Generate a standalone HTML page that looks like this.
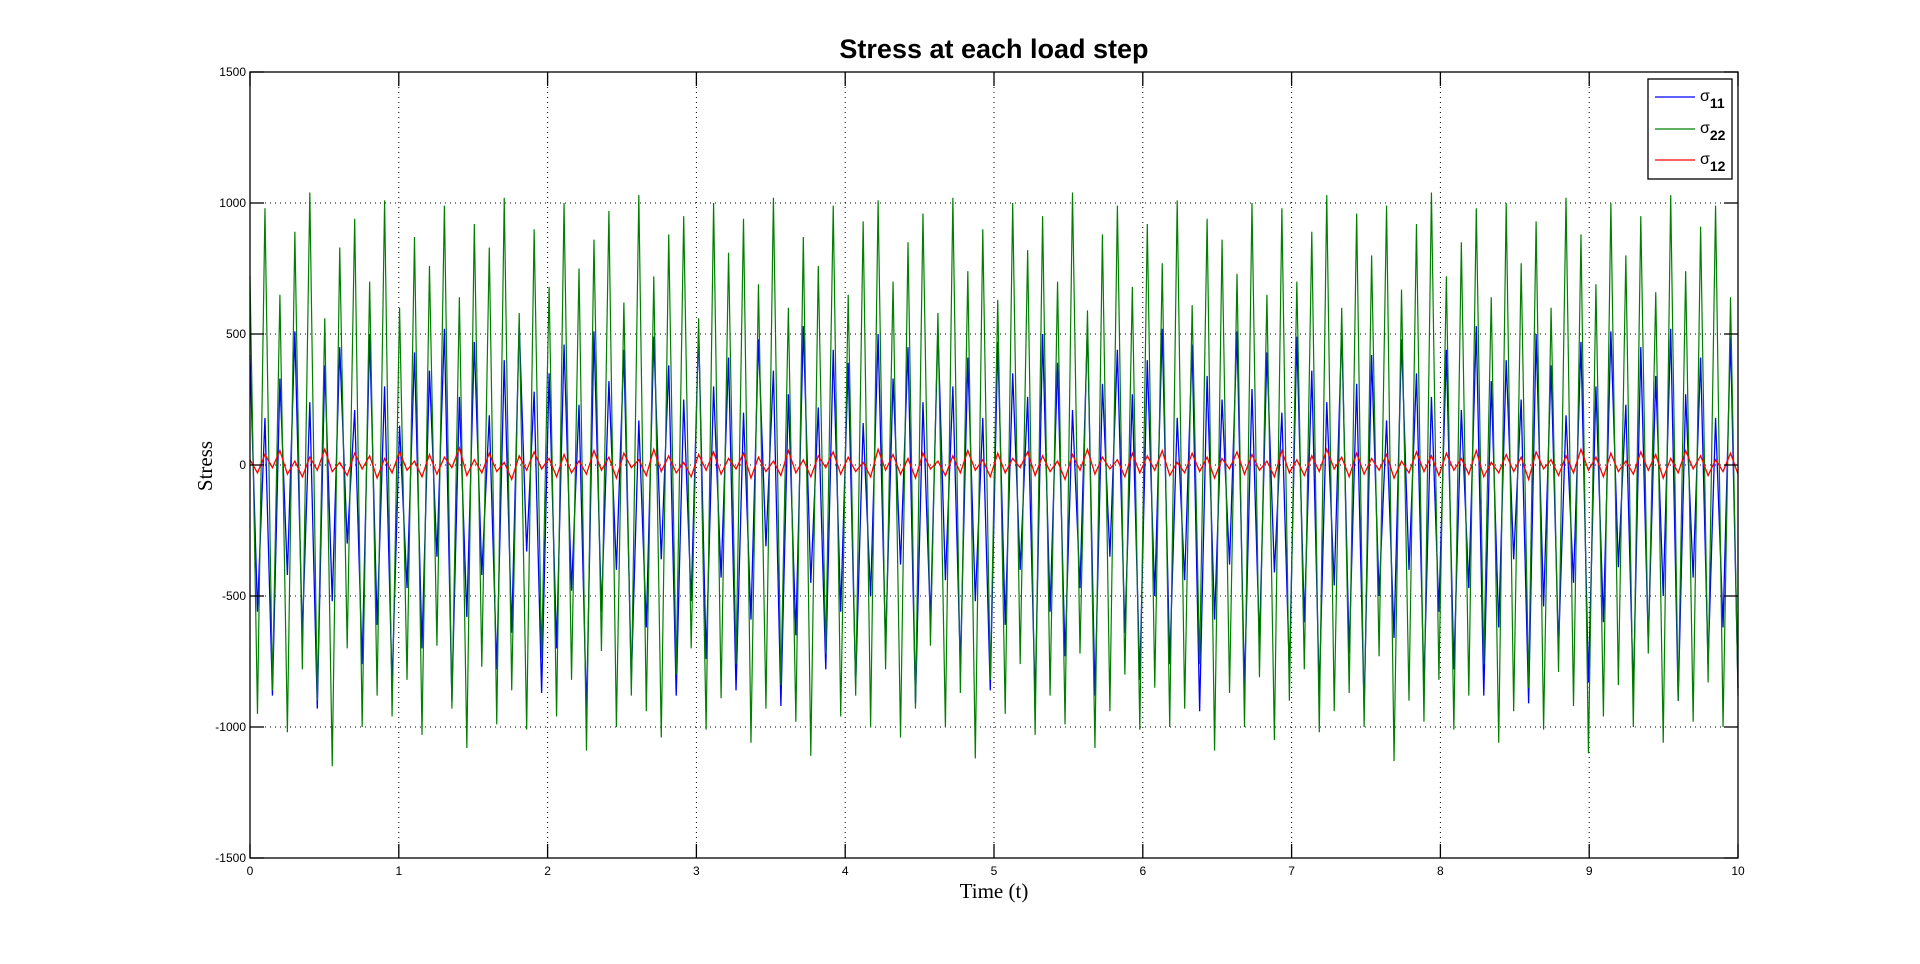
<!DOCTYPE html>
<html><head><meta charset="utf-8"><style>
html,body{margin:0;padding:0;background:#fff;}
svg{display:block;font-family:"Liberation Sans",sans-serif;}
</style></head><body>
<svg id="chart" width="1920" height="964" viewBox="0 0 1920 964" xmlns="http://www.w3.org/2000/svg">
<rect width="1920" height="964" fill="#fff"/>
<text x="994" y="58" text-anchor="middle" font-size="27" font-weight="bold" fill="#000">Stress at each load step</text>
<text transform="translate(212,466) rotate(-90)" text-anchor="middle" font-family="Liberation Serif,serif" font-size="21">Stress</text>
<text x="994" y="898" text-anchor="middle" font-family="Liberation Serif,serif" font-size="21">Time (t)</text>
<g id="grid"></g>
<g id="series"></g>
<g id="axes"></g>
<g>
<rect x="1648" y="79" width="84" height="100" fill="#fff" stroke="#000" stroke-width="1.3"/>
<line x1="1655" y1="97" x2="1695" y2="97" stroke="#0000ff" stroke-width="1.3"/>
<text x="1700" y="101" font-size="16">σ<tspan font-size="14" font-weight="bold" dy="7">11</tspan></text>
<line x1="1655" y1="129" x2="1695" y2="129" stroke="#007f00" stroke-width="1.3"/>
<text x="1700" y="133" font-size="16">σ<tspan font-size="14" font-weight="bold" dy="7">22</tspan></text>
<line x1="1655" y1="160" x2="1695" y2="160" stroke="#ff0000" stroke-width="1.3"/>
<text x="1700" y="164" font-size="16">σ<tspan font-size="14" font-weight="bold" dy="7">12</tspan></text>
</g>
</svg>
<script>
const xTicks=[0,1,2,3,4,5,6,7,8,9,10];
const yTicks=[-1500,-1000,-500,0,500,1000,1500];
const sigma22=[720,-950,980,-860,650,-1020,890,-780,1040,-900,560,-1150,830,-700,940,-1000,700,-880,1010,-960,
600,-820,870,-1030,760,-690,990,-930,640,-1080,920,-770,830,-990,1020,-860,580,-1010,900,-740,
680,-960,1000,-820,750,-1090,860,-710,970,-1000,620,-880,1030,-940,720,-1040,880,-800,950,-700,
560,-1010,1000,-890,810,-760,940,-1060,690,-930,1020,-840,600,-980,870,-1110,760,-720,990,-960,
650,-880,930,-1000,1010,-780,700,-1040,850,-930,960,-690,580,-1000,1020,-870,740,-1120,900,-820,
630,-950,1000,-760,820,-1030,950,-880,700,-990,1040,-720,590,-1080,880,-940,990,-800,680,-1010,
920,-850,770,-1000,1010,-930,610,-760,940,-1090,860,-870,730,-1000,1000,-810,650,-1050,980,-900,
700,-780,890,-1020,1030,-940,600,-870,960,-1000,800,-730,990,-1130,670,-900,920,-980,1040,-820,
720,-1010,850,-880,980,-760,640,-1060,1000,-940,770,-850,930,-1010,600,-790,1020,-920,880,-1100,
690,-960,1000,-840,800,-1000,950,-720,660,-1060,1030,-900,740,-980,910,-830,990,-1000,640,-880];
const sigma11=[420,-560,180,-880,330,-420,510,-650,240,-930,380,-520,450,-300,210,-760,500,-610,300,-840,
150,-470,430,-700,360,-350,520,-900,260,-580,470,-420,190,-780,400,-640,540,-330,280,-870,
350,-700,460,-480,230,-950,510,-560,320,-400,440,-820,170,-620,490,-360,380,-880,250,-520,
520,-740,300,-430,410,-860,200,-590,480,-310,360,-920,270,-650,530,-450,220,-780,440,-560,
390,-840,160,-500,500,-690,330,-380,450,-910,240,-600,520,-440,300,-770,410,-520,180,-860,
470,-610,350,-400,260,-900,500,-560,390,-730,210,-470,530,-880,310,-350,440,-640,270,-820,
400,-500,520,-760,180,-440,460,-940,340,-590,250,-380,510,-850,290,-680,430,-410,200,-790,
490,-600,360,-870,240,-460,520,-720,310,-930,420,-500,170,-660,480,-400,350,-840,260,-560,
440,-780,210,-470,530,-880,320,-620,400,-360,250,-910,500,-540,380,-700,190,-450,470,-830,
300,-600,510,-390,230,-870,450,-680,340,-500,520,-900,270,-430,410,-760,180,-620,490,-850];
const sigma12=[20,-30,40,-10,55,-35,15,-45,30,-20,60,-25,10,-40,45,-15,35,-50,25,-30,
50,-20,15,-45,40,-35,30,-10,65,-40,20,-30,45,-25,10,-55,35,-20,50,-15,
25,-45,40,-30,15,-35,55,-20,30,-50,45,-10,20,-40,60,-25,35,-30,10,-45,
40,-20,50,-35,25,-15,45,-50,30,-25,15,-40,55,-30,20,-45,35,-10,50,-35,
30,-25,10,-45,60,-20,40,-35,25,-50,45,-15,15,-40,35,-30,55,-20,20,-45,
45,-30,25,-10,50,-40,35,-25,15,-55,40,-20,60,-35,30,-15,20,-45,45,-30,
35,-20,55,-40,10,-30,45,-25,30,-50,25,-15,50,-35,40,-20,15,-45,55,-30,
20,-40,35,-25,60,-15,30,-45,45,-35,25,-20,40,-50,15,-30,50,-25,35,-40,
45,-20,25,-35,55,-45,10,-30,40,-25,30,-55,50,-15,20,-40,35,-30,60,-20,
30,-45,45,-25,15,-35,50,-20,40,-50,25,-30,55,-15,35,-40,20,-25,45,-35];
const L=250,R=1738,T=72,B=858;
const xs=v=>L+(v-0)/(10-0)*(R-L);
const ys=v=>B-(v+1500)/3000*(B-T);
const NS='http://www.w3.org/2000/svg';
function mk(tag,attrs,parent){const e=document.createElementNS(NS,tag);for(const k in attrs)e.setAttribute(k,attrs[k]);parent.appendChild(e);return e;}
const grid=document.getElementById('grid'),axes=document.getElementById('axes'),series=document.getElementById('series');
xTicks.forEach(t=>{
 const x=xs(t);
 if(t>0&&t<10){const g=mk('line',{x1:x,x2:x,y1:T,y2:B,stroke:'#000','stroke-width':1,'stroke-dasharray':'1 4'},grid);
 
 }
 mk('line',{x1:x,x2:x,y1:B,y2:B-14,stroke:'#000','stroke-width':1.3},axes);
 mk('line',{x1:x,x2:x,y1:T,y2:T+14,stroke:'#000','stroke-width':1.3},axes);
 const tx=mk('text',{x:x,y:B+17,'text-anchor':'middle','font-size':12},axes);tx.textContent=t;
 
 
});
yTicks.forEach(t=>{
 const y=ys(t);
 if(t>-1500&&t<1500){const g=mk('line',{x1:L,x2:R,y1:y,y2:y,stroke:'#000','stroke-width':1,'stroke-dasharray':'1 4'},grid);
 
 }
 mk('line',{x1:L,x2:L+14,y1:y,y2:y,stroke:'#000','stroke-width':1.3},axes);
 mk('line',{x1:R,x2:R-14,y1:y,y2:y,stroke:'#000','stroke-width':1.3},axes);
 const tx=mk('text',{x:L-4,y:y+4,'text-anchor':'end','font-size':12},axes);tx.textContent=t;
 
 
});
mk('rect',{x:L,y:T,width:R-L,height:B-T,fill:'none',stroke:'#000','stroke-width':1.3},axes);
function line(arr,color,name,w){
 const n=arr.length;
 const d=arr.map((v,i)=>(i?'L':'M')+xs(i*10/(n-1)).toFixed(2)+' '+ys(v).toFixed(2)).join('');
 const p=mk('path',{d:d,fill:'none',stroke:color,'stroke-width':w},series);
 
 
}
line(sigma11,'#0000ff','sigma11-line',1.3);
line(sigma22,'#007f00','sigma22-line',1.2);
line(sigma12,'#ff0000','sigma12-line',1.3);
</script>
</body></html>
